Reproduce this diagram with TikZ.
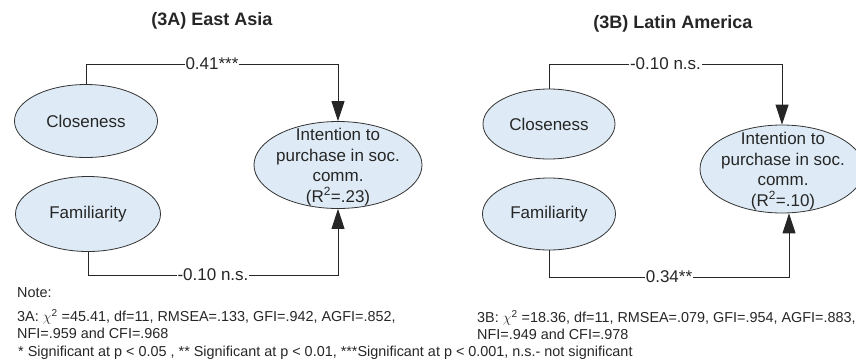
\documentclass[tikz,border=0pt]{standalone}
\usepackage{fontspec}
\setmainfont{Liberation Sans}
\usepackage{xcolor}
\usepackage{tikz}
\usetikzlibrary{arrows.meta, shapes.geometric}
\definecolor{ovalblue}{RGB}{222,235,246}

\begin{document}
\begin{tikzpicture}[x=1pt, y=-1pt,
  every node/.style={font=\fontsize{17}{20.5}\selectfont, text=black!85},
  oval/.style={ellipse, draw=black!80, line width=0.8pt, fill=ovalblue, inner sep=0pt},
  head/.style={font=\fontsize{18}{21}\selectfont\bfseries},
  link/.style={draw=black!85, line width=0.9pt},
  arr/.style={link, -{Triangle[length=20pt, width=13pt]}},
  coef/.style={fill=white, inner sep=1pt},
  note/.style={font=\fontsize{14.4}{16.5}\selectfont, align=left, inner sep=0pt}]
  \useasboundingbox (0,0) rectangle (856,360);

  % (3A)
  \node[head] (headA) at (212,21) {(3A) East Asia};
  \node[oval, minimum width=143, minimum height=73] (closeA) at (86,121) {Closeness};
  \node[oval, minimum width=145, minimum height=75] (famA) at (88,214) {Familiarity};
  \node[oval, minimum width=168, minimum height=87] (intA) at (338,165) {};
  \node[align=center] (intAtxt) at (338,167) {Intention to\\purchase in soc.\\comm.\\(R\textsuperscript{2}=.23)};
  \coordinate (topA) at (0,64); \coordinate (botA) at (0,275);
  \draw[arr] (closeA.north) -- (closeA.north |- topA) -- node[coef] (bA1) {0.41***} (intA.north |- topA) -- (intA.north);
  \draw[arr] (famA.south) -- (famA.south |- botA) -- node[coef] (bA2) {-0.10 n.s.} (intA.south |- botA) -- (intA.south);

  % (3B)
  \node[head] (headB) at (673,24) {(3B) Latin America};
  \node[oval, minimum width=132, minimum height=70] (closeB) at (549,124) {Closeness};
  \node[oval, minimum width=133, minimum height=72] (famB) at (549,214) {Familiarity};
  \node[oval, minimum width=164, minimum height=88] (intB) at (782,169) {};
  \node[align=center] (intBtxt) at (783,171) {Intention to\\purchase in soc.\\comm.\\(R\textsuperscript{2}=.10)};
  \coordinate (topB) at (0,64); \coordinate (botB) at (0,277);
  \coordinate (inB) at ([xshift=7pt]intB.south);
  \draw[arr] (closeB.north) -- (closeB.north |- topB) -- node[coef] (bB1) {-0.10 n.s.} (intB.north |- topB) -- (intB.north);
  \draw[arr] (famB.south) -- (famB.south |- botB) -- node[coef] (bB2) {0.34**} (inB |- botB) -- (inB);

  % notes
  \node[note, anchor=west] (noteHd) at (17,293) {Note:};
  \node[note, anchor=west] (fitA) at (17,324) {3A: $\chi$\textsuperscript{2} =45.41, df=11, RMSEA=.133, GFI=.942, AGFI=.852,\\NFI=.959 and CFI=.968};
  \node[note, anchor=west] (fitB) at (477,325) {3B: $\chi$\textsuperscript{2} =18.36, df=11, RMSEA=.079, GFI=.954, AGFI=.883,\\NFI=.949 and CFI=.978};
  \node[note, anchor=west] (sigKey) at (18,353) {* Significant at p < 0.05 , ** Significant at p < 0.01, ***Significant at p < 0.001, n.s.- not significant};
\end{tikzpicture}
\end{document}
